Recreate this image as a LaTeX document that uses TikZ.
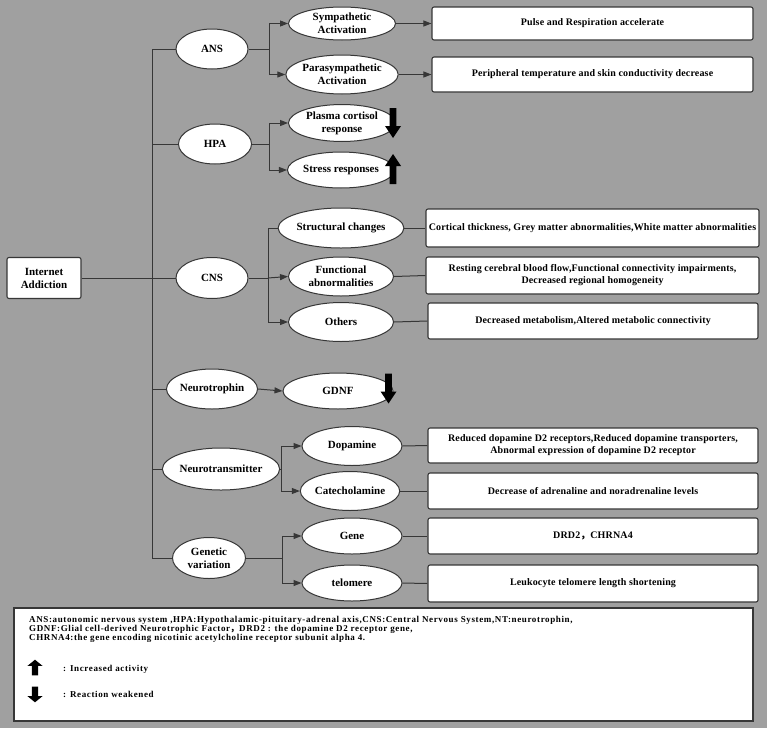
\documentclass[tikz,border=0pt]{standalone}
\usepackage{fontspec}
\setmainfont{Liberation Serif}
\newfontfamily\cjk{Noto Sans CJK SC}
\newfontfamily\boxfont[LetterSpace=1.5]{Liberation Serif}
\newfontfamily\legfont[LetterSpace=7]{Liberation Serif}
\usetikzlibrary{arrows.meta,shapes.geometric}
\definecolor{bg}{RGB}{160,160,160}
\definecolor{ln}{RGB}{55,55,55}
\tikzset{
  ell/.style={ellipse,draw=ln,line width=1pt,fill=white,inner sep=0pt,align=center,
    font=\bfseries\fontsize{11}{13}\selectfont},
  rbox/.style={rectangle,rounded corners=2pt,draw=ln,line width=1.1pt,fill=white,inner sep=0pt,
    align=center,font=\boxfont\bfseries\fontsize{10}{12}\selectfont},
  con/.style={draw=ln,line width=1pt},
  arr/.style={con,-{Triangle[length=8pt,width=6pt]}},
  fatup/.pic={\fill[black] (0,-15) -- (8,-3) -- (3.3,-3) -- (3.3,15) -- (-3.3,15) -- (-3.3,-3) -- (-8,-3) -- cycle;},
  fatdown/.pic={\fill[black] (0,15) -- (8,3) -- (3.3,3) -- (3.3,-15) -- (-3.3,-15) -- (-3.3,3) -- (-8,3) -- cycle;}
}
\begin{document}
\begin{tikzpicture}[x=1pt,y=-1pt]
\fill[bg] (0,0) rectangle (767,728);
\useasboundingbox (0,0) rectangle (767,728);

% root
\node[rectangle,rounded corners=2pt,draw=ln,line width=1.1pt,fill=white,inner sep=0pt,align=center,
  minimum width=74pt,minimum height=41pt,font=\bfseries\fontsize{11}{13}\selectfont] (IA) at (44,278) {Internet\\Addiction};

% level 1
\node[ell,minimum width=72pt,minimum height=40pt] (ANS) at (212,49) {ANS};
\node[ell,minimum width=73pt,minimum height=40pt] (HPA) at (215,144) {HPA};
\node[ell,minimum width=72pt,minimum height=41pt] (CNS) at (212,278) {CNS};
\node[ell,minimum width=79pt,minimum height=40pt] (NTR) at (212,389) {Neurotrophin};
\node[ell,minimum width=95pt,minimum height=42pt] (NTM) at (221,469) {Neurotransmitter};
\node[ell,minimum width=73pt,minimum height=41pt] (GEN) at (209,558) {Genetic\\variation};

% level 2
\node[ell,minimum width=107pt,minimum height=33pt] (SYM) at (342,23.5) {Sympathetic\\Activation};
\node[ell,minimum width=110pt,minimum height=39pt] (PARA) at (342,74.5) {Parasympathetic\\Activation};
\node[ell,minimum width=107pt,minimum height=37pt] (PLA) at (342,123) {Plasma cortisol\\response};
\node[ell,minimum width=105pt,minimum height=36pt] (STR) at (341,170) {Stress responses};
\node[ell,minimum width=105pt,minimum height=40pt] (STC) at (341,228) {Structural changes};
\node[ell,minimum width=105pt,minimum height=39pt] (FUN) at (341,276.5) {Functional\\abnormalities};
\node[ell,minimum width=105pt,minimum height=39pt] (OTH) at (341,322) {Others};
\node[ell,minimum width=110pt,minimum height=36pt] (GDNF) at (338,391) {GDNF};
\node[ell,minimum width=100pt,minimum height=39pt] (DOP) at (352,446) {Dopamine};
\node[ell,minimum width=98pt,minimum height=39pt] (CAT) at (350,491) {Catecholamine};
\node[ell,minimum width=100pt,minimum height=36pt] (GENE) at (352,536) {Gene};
\node[ell,minimum width=100pt,minimum height=36pt] (TEL) at (352,583) {telomere};

% boxes
\node[rbox,minimum width=321pt,minimum height=33pt] (B1) at (592.5,23.5) {Pulse and Respiration accelerate};
\node[rbox,minimum width=321pt,minimum height=35pt] (B2) at (592.5,74.5) {Peripheral temperature and skin conductivity decrease};
\node[rbox,minimum width=333pt,minimum height=38pt] (B3) at (592.5,228) {Cortical thickness, Grey matter abnormalities,White matter abnormalities};
\node[rbox,minimum width=333pt,minimum height=37pt] (B4) at (592.5,275.5) {Resting cerebral blood flow,Functional connectivity impairments,\\Decreased regional homogeneity};
\node[rbox,minimum width=330pt,minimum height=36pt] (B5) at (593,321) {Decreased metabolism,Altered metabolic connectivity};
\node[rbox,minimum width=330pt,minimum height=35pt] (B6) at (593,445.5) {Reduced dopamine D2 receptors,Reduced dopamine transporters,\\Abnormal expression of dopamine D2 receptor};
\node[rbox,minimum width=330pt,minimum height=36pt] (B7) at (593,491) {Decrease of adrenaline and noradrenaline levels};
\node[rbox,minimum width=330pt,minimum height=36pt] (B8) at (593,536) {DRD2{\cjk ，}CHRNA4};
\node[rbox,minimum width=330pt,minimum height=37pt] (B9) at (593,583.5) {Leukocyte telomere length shortening};

% trunk
\coordinate (T) at (152,0);
\draw[con] (ANS.west -| T) -- (GEN.west -| T);
\draw[con] (IA.east) -- (IA.east -| T);
\foreach \n in {ANS,HPA,CNS,NTR,NTM,GEN} \draw[con] (\n.west -| T) -- (\n.west);

% branches
\coordinate (bA) at (269,0);
\coordinate (bH) at (269,0);
\coordinate (bC) at (268,0);
\coordinate (bN) at (281,0);
\coordinate (bG) at (282,0);
\draw[con] (ANS.east) -- (ANS.east -| bA);
\draw[arr] (ANS.east -| bA) |- (SYM.west);
\draw[arr] (ANS.east -| bA) |- (PARA.west);
\draw[con] (HPA.east) -- (HPA.east -| bH);
\draw[arr] (HPA.east -| bH) |- (PLA.west);
\draw[arr] (HPA.east -| bH) |- (STR.west);
\draw[con] (CNS.east) -- (CNS.east -| bC);
\draw[con] (CNS.east -| bC) |- (STC.west);
\draw[arr] (CNS.east -| bC) -- (FUN.west);
\draw[arr] (CNS.east -| bC) |- (OTH.west);
\draw[arr] (NTR.east) -- (GDNF.west);
\draw[con] (NTM.east) -- (NTM.east -| bN);
\draw[arr] (NTM.east -| bN) |- (DOP.west);
\draw[arr] (NTM.east -| bN) |- (CAT.west);
\draw[con] (GEN.east) -- (GEN.east -| bG);
\draw[arr] (GEN.east -| bG) |- (GENE.west);
\draw[arr] (GEN.east -| bG) |- (TEL.west);

% to boxes
\draw[arr] (SYM.east) -- (B1.west);
\draw[arr] (PARA.east) -- (B2.west);
\draw[con] (STC.east) -- (B3.west);
\draw[con] (FUN.east) -- (B4.west);
\draw[con] (OTH.east) -- (B5.west);
\draw[con] (DOP.east) -- (B6.west);
\draw[con] (CAT.east) -- (B7.west);
\draw[con] (GENE.east) -- (B8.west);
\draw[con] (TEL.east) -- (B9.west);

% fat arrows
\pic at (393,123) {fatdown};
\pic at (393,169) {fatup};
\pic at (388.5,388.5) {fatdown};

% legend
\node[rectangle,draw=ln,line width=1.1pt,fill=white,minimum width=739pt,minimum height=113pt,inner sep=0pt] (LEG) at (383.5,664.5) {};
\node[anchor=north west,inner sep=0pt,align=left,font=\legfont\bfseries\fontsize{9}{9.2}\selectfont] (LT) at (29,616)
 {ANS:autonomic nervous system ,HPA:Hypothalamic-pituitary-adrenal axis,CNS:Central Nervous System,NT:neurotrophin,\\
  GDNF:Glial cell-derived Neurotrophic Factor{\cjk ，}DRD2 : the dopamine D2 receptor gene,\\
  CHRNA4:the gene encoding nicotinic acetylcholine receptor subunit alpha 4.};
\pic[xscale=0.95,yscale=0.52] at (35,667.5) {fatup};
\pic[xscale=0.95,yscale=0.52] at (35,694.5) {fatdown};
\node[anchor=base west,inner sep=0pt,font=\legfont\bfseries\fontsize{9}{10}\selectfont] (L1) at (63,671) {: Increased activity};
\node[anchor=base west,inner sep=0pt,font=\legfont\bfseries\fontsize{9}{10}\selectfont] (L2) at (63,697) {: Reaction weakened};
\end{tikzpicture}
\end{document}
